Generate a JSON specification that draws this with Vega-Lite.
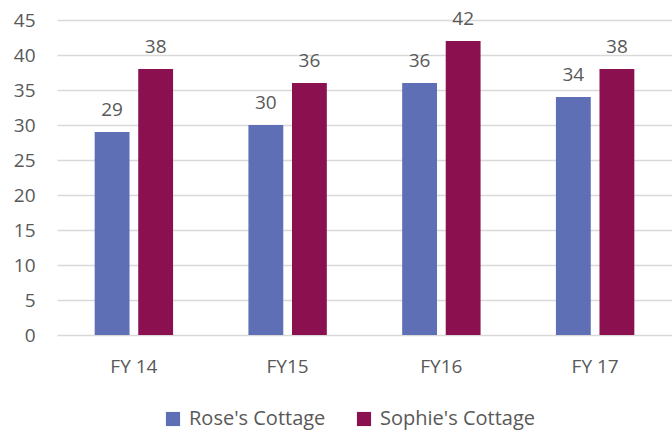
{
  "$schema": "https://vega.github.io/schema/vega-lite/v6.json",
  "autosize": {"type": "none"},
  "width": 615,
  "height": 315,
  "padding": {"left": 57, "top": 20, "right": 0, "bottom": 100},
  "background": "white",
  "data": {"values": [
    {"year": "FY 14", "series": "Rose's Cottage", "value": 29},
    {"year": "FY 14", "series": "Sophie's Cottage", "value": 38},
    {"year": "FY15", "series": "Rose's Cottage", "value": 30},
    {"year": "FY15", "series": "Sophie's Cottage", "value": 36},
    {"year": "FY16", "series": "Rose's Cottage", "value": 36},
    {"year": "FY16", "series": "Sophie's Cottage", "value": 42},
    {"year": "FY 17", "series": "Rose's Cottage", "value": 34},
    {"year": "FY 17", "series": "Sophie's Cottage", "value": 38}
  ]},
  "encoding": {
    "x": {"field": "year", "type": "nominal", "sort": null,
      "scale": {"paddingInner": 0.49, "paddingOuter": 0.245},
      "axis": {"title": null, "labelAngle": 0, "ticks": false, "domain": false, "grid": false,
        "labelFont": "Open Sans", "labelFontSize": 19, "labelColor": "#595959", "labelPadding": 22}},
    "xOffset": {"field": "series", "type": "nominal", "scale": {"paddingInner": 0.2, "paddingOuter": 0}},
    "y": {"field": "value", "type": "quantitative",
      "scale": {"domain": [0, 45]},
      "axis": {"title": null, "values": [0,5,10,15,20,25,30,35,40,45], "ticks": false, "domain": false,
        "gridColor": "#D9D9D9", "gridWidth": 1.3, "labelFont": "Open Sans", "labelFontSize": 19,
        "labelColor": "#595959", "labelPadding": 22}}
  },
  "layer": [
    {"mark": {"type": "bar"},
      "encoding": {"color": {"field": "series", "type": "nominal",
        "scale": {"domain": ["Rose's Cottage", "Sophie's Cottage"], "range": ["#5E6FB5", "#8A1050"]},
        "legend": {"title": null, "orient": "none", "legendX": 106, "legendY": 389, "direction": "horizontal", "symbolType": "square",
          "symbolSize": 200, "symbolStrokeWidth": 0, "labelFont": "Open Sans", "labelFontSize": 20,
          "labelColor": "#595959", "columnPadding": 28, "labelOffset": 6}}}},
    {"mark": {"type": "text", "dy": -22, "font": "Open Sans", "fontSize": 19, "color": "#595959"},
      "encoding": {"text": {"field": "value", "type": "quantitative"}}}
  ],
  "config": {"view": {"stroke": null}}
}
